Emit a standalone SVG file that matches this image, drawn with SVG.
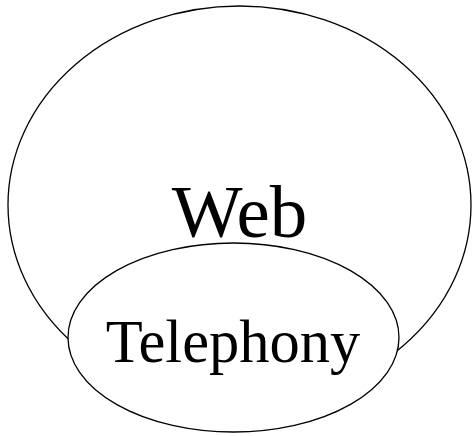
<svg xmlns="http://www.w3.org/2000/svg" width="472" height="436" viewBox="0 0 472 436">
<style>
.e{fill:#fff;stroke:#000;stroke-width:1.3}
.t{font-family:"Liberation Serif","Times New Roman",serif;fill:#000;text-anchor:middle}
</style>
<rect width="472" height="436" fill="#fff"/>
<g id="web">
<ellipse class="e" cx="239.5" cy="205" rx="231.5" ry="199"/>
<text class="t" x="239.5" y="237" font-size="75">Web</text>
</g>
<g id="telephony">
<ellipse class="e" cx="233.5" cy="337.5" rx="165.5" ry="94.5"/>
<text class="t" x="233" y="362" font-size="60.5">Telephony</text>
</g>
<g id="connectors"></g>
</svg>
